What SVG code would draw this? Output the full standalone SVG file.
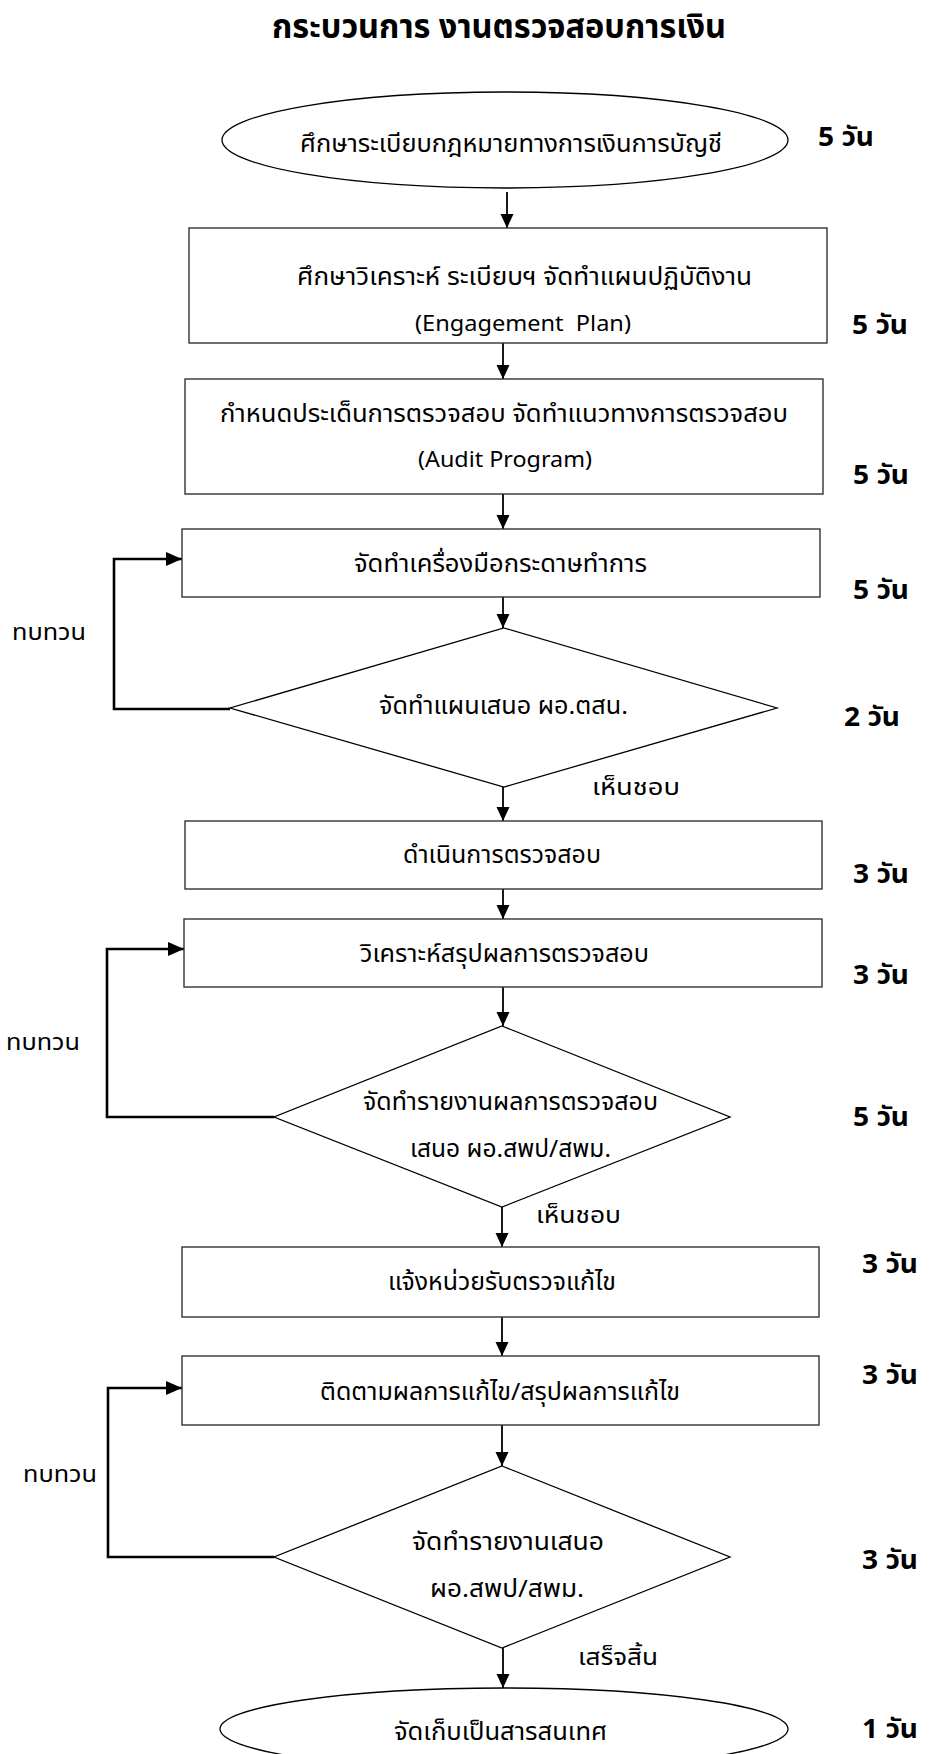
<svg xmlns="http://www.w3.org/2000/svg" width="929" height="1754" viewBox="0 0 929 1754">
<style>
text{font-family:"Noto Sans","Noto Sans Thai",sans-serif;fill:#000}
.t{font-size:24px;text-anchor:middle}
.en{font-size:22px;text-anchor:middle}
.lbl{font-size:23.5px}
.day{font-size:26px;font-weight:bold}
.title{font-size:33px;font-weight:bold;text-anchor:middle}
.box{fill:#fff;stroke:#333;stroke-width:1.4}
.shape{fill:#fff;stroke:#000;stroke-width:1.3}
.arr{fill:none;stroke:#000;stroke-width:1.8;marker-end:url(#ah)}
.fb{fill:none;stroke:#000;stroke-width:2.6;marker-end:url(#ahb)}
</style>
<defs>
<marker id="ah" markerUnits="userSpaceOnUse" markerWidth="14" markerHeight="14" refX="14" refY="6.5" orient="auto"><path d="M0,0 L14,6.5 L0,13 Z" fill="#000"/></marker>
<marker id="ahb" markerUnits="userSpaceOnUse" markerWidth="16" markerHeight="15" refX="16" refY="7" orient="auto"><path d="M0,0 L16,7 L0,14 Z" fill="#000"/></marker>
</defs>
<rect width="929" height="1754" fill="#fff"/>
<text class="title" x="499" y="37.5" textLength="454" lengthAdjust="spacingAndGlyphs">กระบวนการ งานตรวจสอบการเงิน</text>

<g id="connectors">
<path class="arr" d="M507,192 L507,228"/>
<path class="arr" d="M503,343 L503,379"/>
<path class="arr" d="M503,494 L503,529"/>
<path class="arr" d="M503,597 L503,628"/>
<path class="arr" d="M503,787 L503,821"/>
<path class="arr" d="M503,889 L503,919"/>
<path class="arr" d="M503,987 L503,1026"/>
<path class="arr" d="M502,1207 L502,1247"/>
<path class="arr" d="M502,1317 L502,1356"/>
<path class="arr" d="M502,1425 L502,1466"/>
<path class="arr" d="M503,1648 L503,1688"/>
<path class="fb" d="M230,709 L114,709 L114,559 L182,559"/>
<path class="fb" d="M274,1117 L107,1117 L107,949 L184,949"/>
<path class="fb" d="M274,1557 L108,1557 L108,1388 L182,1388"/>
<text class="lbl" x="12" y="640" textLength="74" lengthAdjust="spacingAndGlyphs">ทบทวน</text>
<text class="lbl" x="592" y="795" textLength="88" lengthAdjust="spacingAndGlyphs">เห็นชอบ</text>
<text class="lbl" x="6" y="1050" textLength="74" lengthAdjust="spacingAndGlyphs">ทบทวน</text>
<text class="lbl" x="536" y="1223" textLength="85" lengthAdjust="spacingAndGlyphs">เห็นชอบ</text>
<text class="lbl" x="23" y="1482" textLength="74" lengthAdjust="spacingAndGlyphs">ทบทวน</text>
<text class="lbl" x="578" y="1665" textLength="80" lengthAdjust="spacingAndGlyphs">เสร็จสิ้น</text>
</g>

<g id="n1">
<ellipse class="shape" cx="505" cy="140" rx="283" ry="48"/>
<text class="t" x="511" y="152" textLength="422" lengthAdjust="spacingAndGlyphs">ศึกษาระเบียบกฎหมายทางการเงินการบัญชี</text>
<text class="day" x="818" y="146" textLength="56" lengthAdjust="spacingAndGlyphs">5 วัน</text>
</g>
<g id="n2">
<rect class="box" x="189" y="228" width="638" height="115"/>
<text class="t" x="524.5" y="285" textLength="455" lengthAdjust="spacingAndGlyphs">ศึกษาวิเคราะห์ ระเบียบฯ จัดทำแผนปฏิบัติงาน</text>
<text class="en" x="523" y="331" xml:space="preserve" textLength="216" lengthAdjust="spacingAndGlyphs">(Engagement  Plan)</text>
<text class="day" x="852" y="334" textLength="56" lengthAdjust="spacingAndGlyphs">5 วัน</text>
</g>
<g id="n3">
<rect class="box" x="185" y="379" width="638" height="115"/>
<text class="t" x="504" y="422" textLength="568" lengthAdjust="spacingAndGlyphs">กำหนดประเด็นการตรวจสอบ จัดทำแนวทางการตรวจสอบ</text>
<text class="en" x="505" y="467" textLength="174" lengthAdjust="spacingAndGlyphs">(Audit Program)</text>
<text class="day" x="853" y="484" textLength="56" lengthAdjust="spacingAndGlyphs">5 วัน</text>
</g>
<g id="n4">
<rect class="box" x="182" y="529" width="638" height="68"/>
<text class="t" x="500.5" y="572" textLength="293" lengthAdjust="spacingAndGlyphs">จัดทำเครื่องมือกระดาษทำการ</text>
<text class="day" x="853" y="599" textLength="56" lengthAdjust="spacingAndGlyphs">5 วัน</text>
</g>
<g id="n5">
<polygon class="shape" points="504,628 777,708 504,787 230,708"/>
<text class="t" x="503.5" y="714" textLength="249" lengthAdjust="spacingAndGlyphs">จัดทำแผนเสนอ ผอ.ตสน.</text>
<text class="day" x="844" y="726" textLength="56" lengthAdjust="spacingAndGlyphs">2 วัน</text>
</g>
<g id="n6">
<rect class="box" x="185" y="821" width="637" height="68"/>
<text class="t" x="502" y="863" textLength="198" lengthAdjust="spacingAndGlyphs">ดำเนินการตรวจสอบ</text>
<text class="day" x="853" y="883" textLength="56" lengthAdjust="spacingAndGlyphs">3 วัน</text>
</g>
<g id="n7">
<rect class="box" x="184" y="919" width="638" height="68"/>
<text class="t" x="504.5" y="962" textLength="289" lengthAdjust="spacingAndGlyphs">วิเคราะห์สรุปผลการตรวจสอบ</text>
<text class="day" x="853" y="984" textLength="56" lengthAdjust="spacingAndGlyphs">3 วัน</text>
</g>
<g id="n8">
<polygon class="shape" points="502,1026 730,1117 502,1207 274,1117"/>
<text class="t" x="510.5" y="1110" textLength="295" lengthAdjust="spacingAndGlyphs">จัดทำรายงานผลการตรวจสอบ</text>
<text class="t" x="510.5" y="1157" textLength="201" lengthAdjust="spacingAndGlyphs">เสนอ ผอ.สพป/สพม.</text>
<text class="day" x="853" y="1126" textLength="56" lengthAdjust="spacingAndGlyphs">5 วัน</text>
</g>
<g id="n9">
<rect class="box" x="182" y="1247" width="637" height="70"/>
<text class="t" x="502" y="1290" textLength="228" lengthAdjust="spacingAndGlyphs">แจ้งหน่วยรับตรวจแก้ไข</text>
<text class="day" x="862" y="1273" textLength="56" lengthAdjust="spacingAndGlyphs">3 วัน</text>
</g>
<g id="n10">
<rect class="box" x="182" y="1356" width="637" height="69"/>
<text class="t" x="500" y="1400" textLength="360" lengthAdjust="spacingAndGlyphs">ติดตามผลการแก้ไข/สรุปผลการแก้ไข</text>
<text class="day" x="862" y="1384" textLength="56" lengthAdjust="spacingAndGlyphs">3 วัน</text>
</g>
<g id="n11">
<polygon class="shape" points="502,1466 730,1557 502,1648 274,1557"/>
<text class="t" x="508" y="1550" textLength="192" lengthAdjust="spacingAndGlyphs">จัดทำรายงานเสนอ</text>
<text class="t" x="507" y="1597" textLength="154" lengthAdjust="spacingAndGlyphs">ผอ.สพป/สพม.</text>
<text class="day" x="862" y="1569" textLength="56" lengthAdjust="spacingAndGlyphs">3 วัน</text>
</g>
<g id="n12">
<ellipse class="shape" cx="504" cy="1729" rx="284" ry="41"/>
<text class="t" x="500.5" y="1740" textLength="213" lengthAdjust="spacingAndGlyphs">จัดเก็บเป็นสารสนเทศ</text>
<text class="day" x="862" y="1738" textLength="56" lengthAdjust="spacingAndGlyphs">1 วัน</text>
</g>
</svg>
